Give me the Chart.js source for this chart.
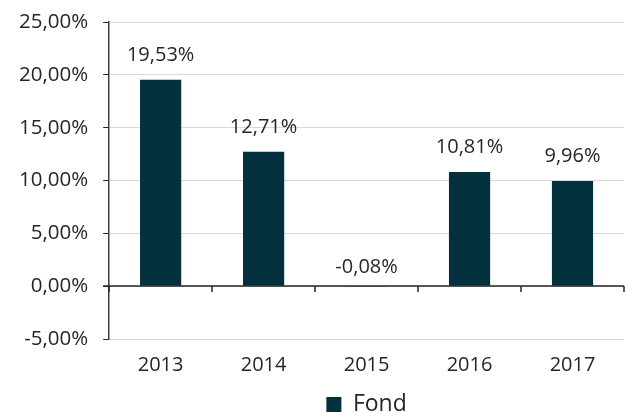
<!DOCTYPE html>
<html>
<head>
<meta charset="utf-8">
<script src="https://cdn.jsdelivr.net/npm/chart.js@4"></script>
<style>
  html, body { margin: 0; padding: 0; background: #fff; }
  #wrap { width: 625px; height: 412px; }
</style>
</head>
<body>
<div id="wrap"><canvas id="chart"></canvas></div>
<script>
// values
const years = ['2013', '2014', '2015', '2016', '2017'];
const fondReturns = [19.53, 12.71, -0.08, 10.81, 9.96];
const seriesName = 'Fond';
const yMin = -5, yMax = 25, yStep = 5;

const BAR_COLOR = '#03303d';
const TEXT_COLOR = '#262626';
const FONT = "'Open Sans', sans-serif";

const pct = v => v.toFixed(2).replace('.', ',') + '%';

// zero line with category ticks + value labels
const extras = {
    id: 'extras',
    afterDatasetsDraw(chart) {
        const ctx = chart.ctx;
        const x = chart.scales.x, y = chart.scales.y;
        const y0 = Math.round(y.getPixelForValue(0));
        ctx.save();
        ctx.strokeStyle = '#262626';
        ctx.lineWidth = 1.5;
        ctx.beginPath();
        ctx.moveTo(x.left - 6, y0);
        ctx.lineTo(x.right, y0);
        for (let i = 0; i <= years.length; i++) {
            const px = Math.round(x.left + (x.right - x.left) * i / years.length);
            ctx.moveTo(px, y0);
            ctx.lineTo(px, y0 + 6);
        }
        ctx.stroke();

        ctx.fillStyle = TEXT_COLOR;
        ctx.font = "20px " + FONT;
        ctx.textAlign = 'center';
        ctx.textBaseline = 'middle';
        chart.getDatasetMeta(0).data.forEach((bar, i) => {
            const top = Math.min(bar.y, bar.base);
            const off = fondReturns[i] >= 0 ? 25 : 19;
            ctx.fillText(pct(fondReturns[i]), bar.x, top - off);
        });
        ctx.restore();
    }
};

new Chart(document.getElementById('chart'), {
    type: 'bar',
    data: {
        labels: years,
        datasets: [{
            label: seriesName,
            data: fondReturns,
            backgroundColor: BAR_COLOR,
            borderWidth: 0,
            categoryPercentage: 1,
            barPercentage: 0.4
        }]
    },
    options: {
        responsive: true,
        maintainAspectRatio: false,
        animation: false,
        layout: { padding: { top: 0, right: 1, left: 4, bottom: -14 } },
        plugins: {
            legend: {
                position: 'bottom',
                fullSize: false,
                labels: {
                    color: TEXT_COLOR,
                    font: { family: FONT, size: 23 },
                    boxWidth: 15,
                    boxHeight: 15,
                    padding: 2
                }
            },
            tooltip: { enabled: false }
        },
        scales: {
            x: {
                grid: { display: false, drawTicks: false, offset: true },
                border: { display: false },
                ticks: {
                    color: TEXT_COLOR,
                    font: { family: FONT, size: 20 },
                    padding: 14
                }
            },
            y: {
                min: yMin,
                max: yMax,
                // the tick padding also pushes the top down, keep the top room tight
                afterFit: s => { s.paddingTop = 22; },
                ticks: {
                    stepSize: yStep,
                    color: TEXT_COLOR,
                    font: { family: FONT, size: 20.5 },
                    padding: 15,
                    callback: v => pct(v)
                },
                grid: {
                    color: '#d9d9d9',
                    tickColor: '#262626',
                    tickLength: 6,
                    lineWidth: 1
                },
                border: { display: true, color: '#404040', width: 1.5 }
            }
        }
    },
    plugins: [extras]
});
</script>
</body>
</html>
